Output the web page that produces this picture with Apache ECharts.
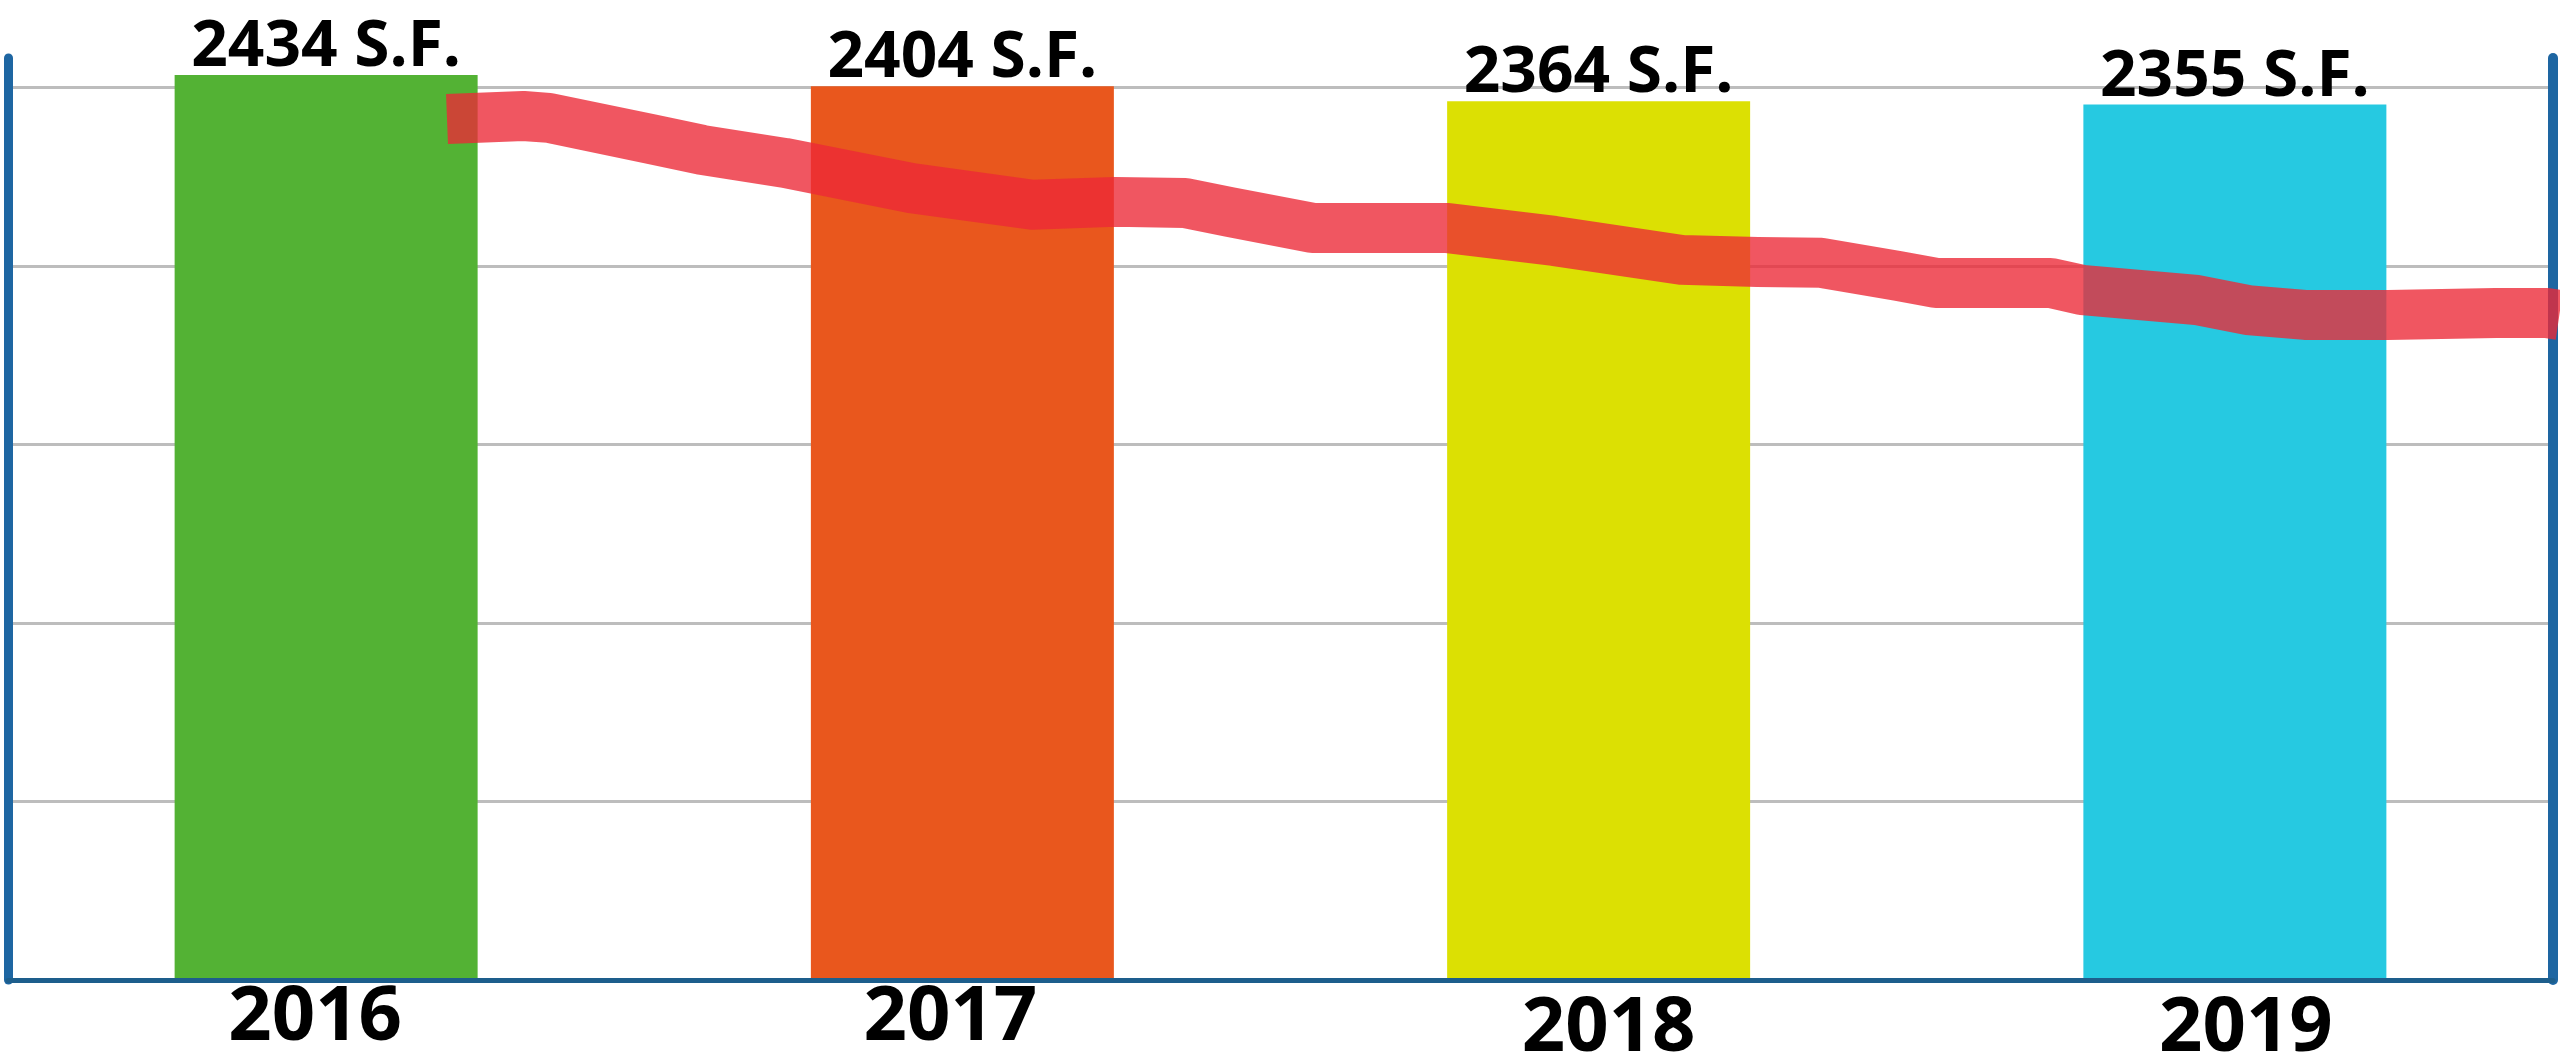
<!DOCTYPE html>
<html>
<head>
<meta charset="utf-8">
<script src="https://cdn.jsdelivr.net/npm/echarts@6/dist/echarts.min.js"></script>
<style>
  html, body { margin: 0; padding: 0; background: #ffffff; }
  #chart { width: 2560px; height: 1058px; }
</style>
</head>
<body>
<div id="chart"></div>
<script>
// Floor area per year (square feet)
const years = ['2016', '2017', '2018', '2019'];
const areas = [2434, 2404, 2364, 2355];

// Downward trend band: x in category units (0 = 2016 … 3 = 2019), y in square feet
const trendX = [0.19, 0.31, 0.35, 0.51, 0.59, 0.72, 0.92, 1.11, 1.24, 1.35, 1.42, 1.55, 1.76, 1.93,
                2.13, 2.25, 2.35, 2.47, 2.53, 2.71, 2.76, 2.94, 3.02, 3.11, 3.24, 3.41, 3.49, 3.51];
const trendY = [2316, 2324, 2319, 2262, 2233, 2198, 2130, 2085, 2093, 2090, 2066, 2023, 2023, 1988,
                1937, 1931, 1929, 1894, 1875, 1875, 1856, 1829, 1802, 1789, 1789, 1794, 1794, 1789];

const palette = ['#53b234', '#e9571d', '#dce003', '#26c9e1'];
const labelFont = "'Open Sans', 'Liberation Sans', sans-serif";
const axisBlue = '#1e66a2';

// Year labels sit slightly staggered under the bars
const yearStyle = (padding) => ({
  color: '#000000',
  fontFamily: labelFont,
  fontWeight: 'bold',
  fontSize: 76,
  padding: padding
});

const chart = echarts.init(document.getElementById('chart'), null, { renderer: 'canvas' });

chart.setOption({
  backgroundColor: '#ffffff',
  animation: false,
  grid: { left: 8, right: 7, top: 58, bottom: 78, containLabel: false, outerBoundsMode: 'none' },
  xAxis: [
    {
      type: 'category',
      data: years,
      boundaryGap: true,
      z: 5,
      axisLine: { show: true, lineStyle: { color: '#1d5e8c', width: 5 } },
      axisTick: { show: false },
      splitLine: { show: false },
      axisLabel: {
        margin: 0,
        formatter: (v, i) => '{y' + i + '|' + v + '}',
        rich: {
          y0: yearStyle([0, 22, 0, 0]),
          y1: yearStyle([0, 24, 0, 0]),
          y2: yearStyle([11, 0, 0, 20]),
          y3: yearStyle([11, 0, 0, 22])
        }
      }
    },
    { type: 'value', min: -0.5, max: 3.5, show: false }
  ],
  yAxis: [
    {
      type: 'value',
      min: 0,
      max: 2480,
      interval: 480,
      axisLine: { show: true, onZero: false, lineStyle: { color: axisBlue, width: 9 } },
      axisTick: { show: false },
      axisLabel: { show: false },
      splitLine: {
        show: true,
        showMinLine: false,
        showMaxLine: false,
        lineStyle: { color: '#bdbdbd', width: 3 }
      }
    },
    {
      type: 'value',
      position: 'right',
      min: 0,
      max: 2480,
      interval: 480,
      axisLine: { show: true, onZero: false, lineStyle: { color: axisBlue, width: 10 } },
      axisTick: { show: false },
      axisLabel: { show: false },
      splitLine: { show: false }
    }
  ],
  series: [
    {
      type: 'bar',
      xAxisIndex: 0,
      yAxisIndex: 0,
      barWidth: 303,
      data: areas.map((v, i) => ({ value: v, itemStyle: { color: palette[i] } })),
      label: {
        show: true,
        position: 'top',
        distance: -5,
        formatter: '{c} S.F.',
        color: '#000000',
        fontFamily: labelFont,
        fontWeight: 'bold',
        fontSize: 64
      }
    },
    {
      type: 'line',
      xAxisIndex: 1,
      yAxisIndex: 0,
      z: 4,
      clip: false,
      symbol: 'none',
      data: trendX.map((x, i) => [x, trendY[i]]),
      lineStyle: { color: 'rgba(236, 41, 55, 0.79)', width: 50, cap: 'butt', join: 'round' }
    }
  ]
});
</script>
</body>
</html>
